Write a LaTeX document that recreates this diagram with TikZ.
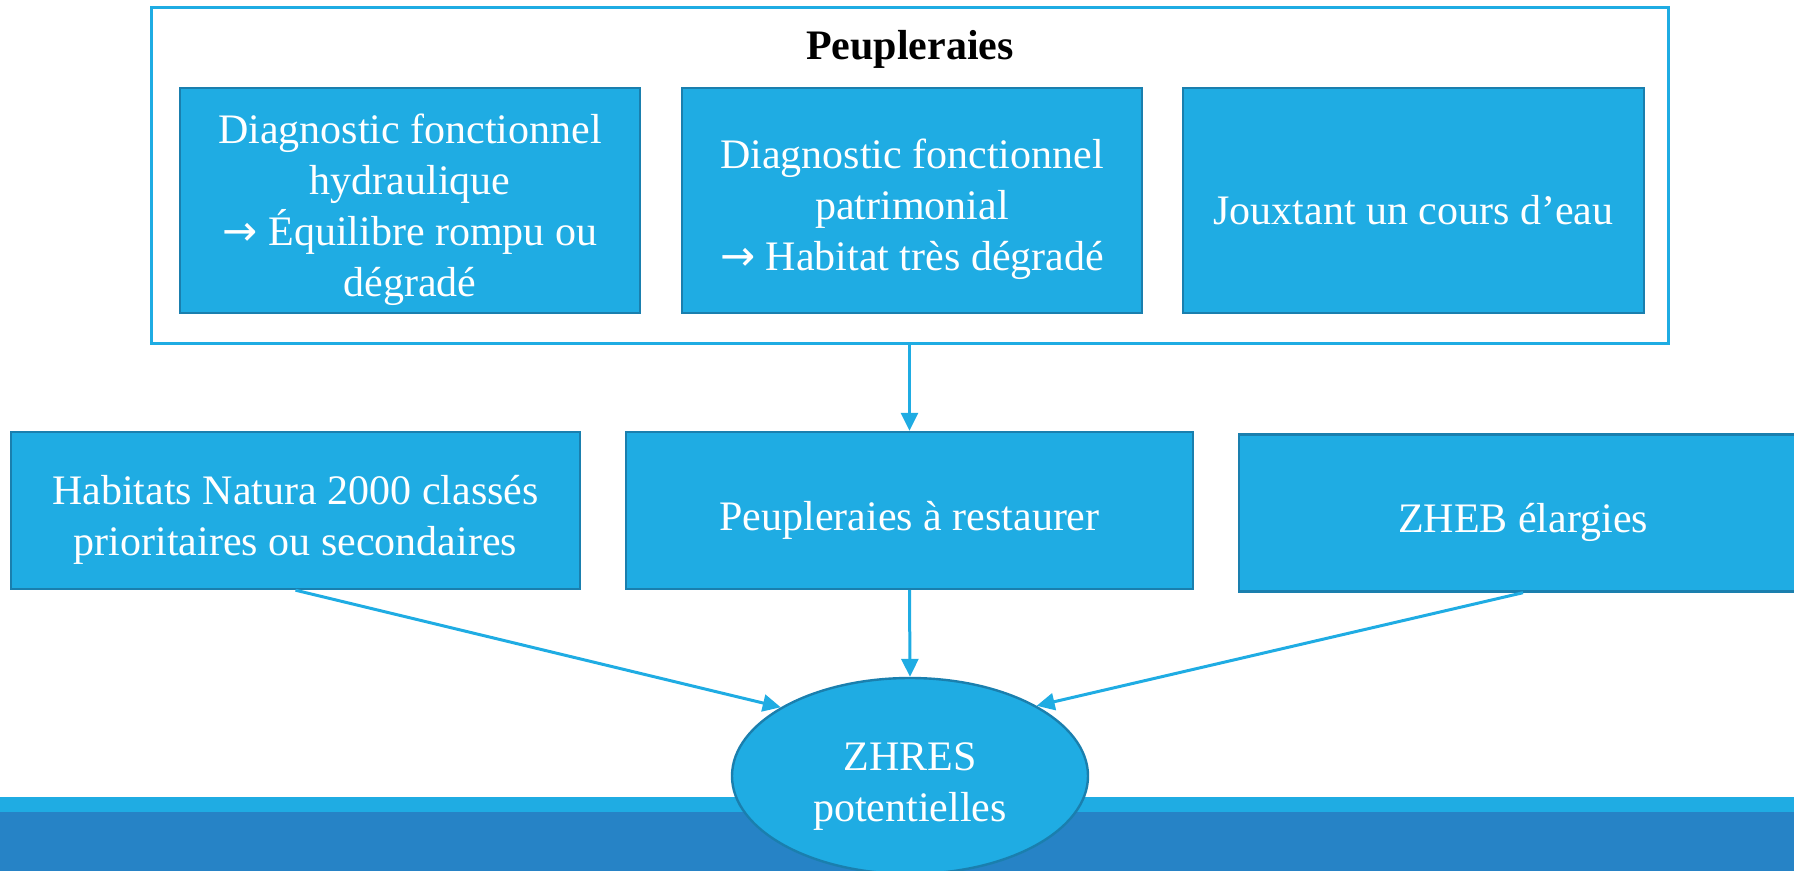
\documentclass[tikz,border=0pt]{standalone}
\usepackage{fontspec}
\setmainfont{Liberation Serif}
\newfontfamily\arrowfont{DejaVu Sans}
\usetikzlibrary{arrows.meta,shapes.geometric}

\definecolor{zblue}{HTML}{1FACE3}
\definecolor{zedge}{HTML}{1A7FAE}
\definecolor{zdark}{HTML}{2683C6}

\newcommand{\topstrut}{\rule{0pt}{24pt}}

\tikzset{
  bluebox/.style={draw=zedge, line width=1.2pt, fill=zblue, text=white, align=center,
    inner sep=0pt, font=\fontsize{21}{25.5}\selectfont},
  link/.style={draw=zblue, line width=1.5pt, -{Triangle[length=9pt,width=8.5pt]}},
}

\begin{document}
\begin{tikzpicture}[x=0.5pt,y=-0.5pt]
			\useasboundingbox (0,0) rectangle (1794,871);
			\fill [zblue] (0,797) rectangle (1794,812);
			\fill [zdark] (0,812) rectangle (1794,871);
			
			\node [draw=zblue, line width=1.5pt, inner sep=0pt, minimum width=758.5pt, minimum height=168pt] (outer) at (909.5,176) {};
			\node [font=\fontsize{21}{25.5}\selectfont\bfseries] (title) at (910,49) {Peupleraies};
			
			\node [bluebox, minimum width=230pt, minimum height=112.5pt] (hydro) at (410,200.5) {\topstrut Diagnostic fonctionnel\\hydraulique\\{\arrowfont →} Équilibre rompu ou\\dégradé};
			\node [bluebox, minimum width=230pt, minimum height=112.5pt] (patri) at (912,200.5) {\topstrut Diagnostic fonctionnel\\patrimonial\\{\arrowfont →} Habitat très dégradé};
			\node [bluebox, minimum width=230.5pt, minimum height=112.5pt] (joux) at (1413.5,200.5) {\topstrut Jouxtant un cours d’eau};
			
			\node [bluebox, minimum width=284.5pt, minimum height=78.5pt] (natura) at (295.5,510.5) {\topstrut Habitats Natura 2000 classés\\prioritaires ou secondaires};
			\node [bluebox, minimum width=283.5pt, minimum height=78.5pt] (peup) at (909.5,510.5) {\topstrut Peupleraies à restaurer};
			\node [bluebox, minimum width=284pt, minimum height=78.5pt] (zheb) at (1523,513) {\topstrut ZHEB élargies};
			
			\node [bluebox, ellipse, minimum width=178pt, minimum height=98pt] (zhres) at (910,776) {\topstrut ZHRES\\potentielles};
			
			\draw [link] (outer.south) -- (peup.north);
			\draw [link] (peup.south) -- (zhres.north);
			\draw [link] (natura.south) -- (zhres.152);
			\draw [link] (zheb.south) -- (zhres.29);
\end{tikzpicture}
\end{document}
